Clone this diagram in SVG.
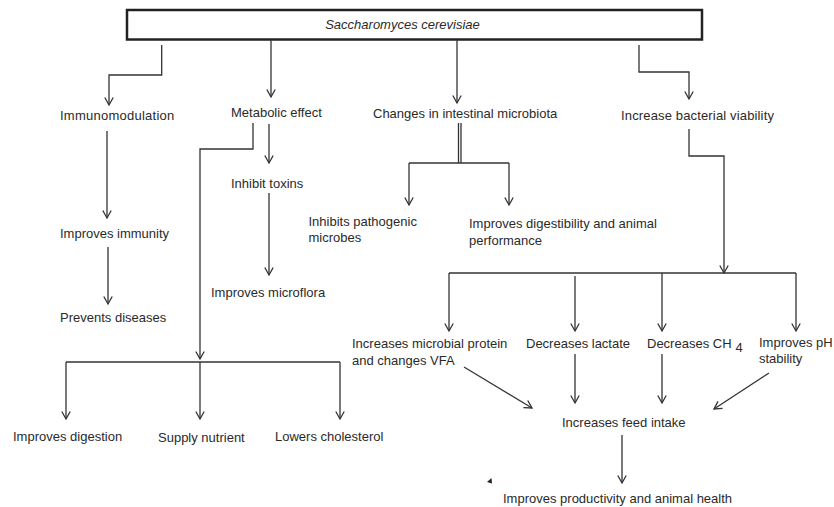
<svg xmlns="http://www.w3.org/2000/svg" width="834" height="507" viewBox="0 0 834 507">
<style>
text{font-family:"Liberation Sans",Arial,sans-serif;font-size:13px;fill:#2a2a2a}
.c path,.c line{fill:none;stroke:#333;stroke-width:1.3}
.arr{marker-end:url(#ah)}
</style>
<defs>
<marker id="ah" viewBox="0 0 12 12" refX="10" refY="6" markerWidth="12" markerHeight="12" markerUnits="userSpaceOnUse" orient="auto">
<path d="M2.5,1.8 L10,6 L2.5,10.2" fill="none" stroke="#333" stroke-width="1.3"/>
</marker>
</defs>
<rect width="834" height="507" fill="#fff"/>
<g id="root">
<rect x="127" y="10" width="575" height="29.5" fill="#fff" stroke="#222" stroke-width="2.5"/>
<text x="402.5" y="29" text-anchor="middle" font-style="italic">Saccharomyces cerevisiae</text>
</g>
<g id="immunomodulation"><text x="60" y="120" letter-spacing="0.25">Immunomodulation</text></g>
<g id="metabolic"><text x="231" y="117">Metabolic effect</text></g>
<g id="changes"><text x="373" y="118">Changes in intestinal microbiota</text></g>
<g id="viability"><text x="621" y="120" letter-spacing="0.15">Increase bacterial viability</text></g>
<g id="toxins"><text x="231" y="188">Inhibit toxins</text></g>
<g id="pathogenic"><text x="308.5" y="226">Inhibits pathogenic</text><text x="308.5" y="242">microbes</text></g>
<g id="digestibility"><text x="469" y="228">Improves digestibility and animal</text><text x="469" y="245">performance</text></g>
<g id="immunity"><text x="60" y="238">Improves immunity</text></g>
<g id="microflora"><text x="211" y="297">Improves microflora</text></g>
<g id="diseases"><text x="60" y="322">Prevents diseases</text></g>
<g id="protein"><text x="352" y="348">Increases microbial protein</text><text x="352" y="365">and changes VFA</text></g>
<g id="lactate"><text x="526" y="348">Decreases lactate</text></g>
<g id="ch4"><text x="647" y="348">Decreases CH<tspan dx="4" dy="4">4</tspan></text></g>
<g id="ph"><text x="759" y="347">Improves pH</text><text x="759" y="363">stability</text></g>
<g id="feed"><text x="562" y="427">Increases feed intake</text></g>
<g id="digestion"><text x="13" y="441">Improves digestion</text></g>
<g id="nutrient"><text x="158" y="442">Supply nutrient</text></g>
<g id="cholesterol"><text x="275" y="441">Lowers cholesterol</text></g>
<g id="productivity"><text x="503" y="503">Improves productivity and animal health</text></g>
<g id="connectors" class="c">
<path class="arr" d="M161.7,45 V75 H109 V105"/>
<path class="arr" d="M271,40 V97"/>
<path class="arr" d="M457,40 V103"/>
<path class="arr" d="M639,45 V72 H689 V99"/>
<path class="arr" d="M107,131 V218"/>
<path class="arr" d="M108,247 V304"/>
<path class="arr" d="M269,124 V163"/>
<path class="arr" d="M269,193 V275"/>
<path class="arr" d="M253,123 V149 H200 V359"/>
<path d="M66,362 H340"/>
<path class="arr" d="M66,362 V419"/>
<path class="arr" d="M200,362 V419"/>
<path class="arr" d="M340,362 V419"/>
<path d="M458.5,123 V163 M461,123 V163"/>
<path d="M409,163 H509"/>
<path class="arr" d="M409,163 V205"/>
<path class="arr" d="M509,163 V205"/>
<path class="arr" d="M689,129 V156 H724 V273"/>
<path d="M449,273 H796"/>
<path class="arr" d="M449,273 V331"/>
<path class="arr" d="M575,276 V331"/>
<path class="arr" d="M662,273 V331"/>
<path class="arr" d="M796,273 V331"/>
<path class="arr" d="M464,367 L532,408"/>
<path class="arr" d="M769,373 L714,409"/>
<path class="arr" d="M575,354 V403"/>
<path class="arr" d="M662,354 V403"/>
<path class="arr" d="M622,435 V483"/>
<polygon points="487,482 491.5,478 492,483.5" fill="#222" stroke="none"/>
</g>
</svg>
